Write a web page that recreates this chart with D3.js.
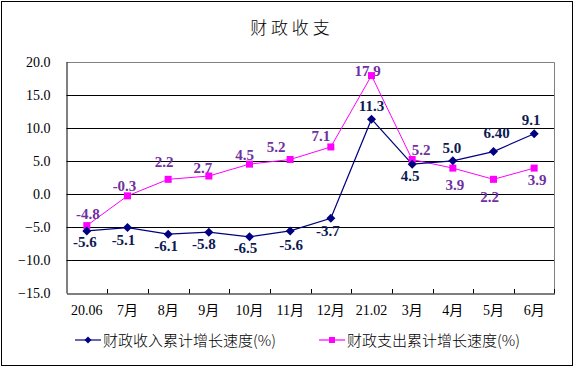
<!DOCTYPE html>
<html><head><meta charset="utf-8">
<script src="https://cdn.jsdelivr.net/npm/d3@7"></script>
<style>body{margin:0;background:#fff}svg{display:block}</style>
</head><body><svg id="c" width="574" height="367"></svg>
<script>
const categories = ["20.06","7月","8月","9月","10月","11月","12月","21.02","3月","4月","5月","6月"];
const revenue = [-5.6,-5.1,-6.1,-5.8,-6.5,-5.6,-3.7,11.3,4.5,5.0,6.40,9.1];
const revenueLabels = ["-5.6","-5.1","-6.1","-5.8","-6.5","-5.6","-3.7","11.3","4.5","5.0","6.40","9.1"];
const expenditure = [-4.8,-0.3,2.2,2.7,4.5,5.2,7.1,17.9,5.2,3.9,2.2,3.9];
const expenditureLabels = ["-4.8","-0.3","2.2","2.7","4.5","5.2","7.1","17.9","5.2","3.9","2.2","3.9"];
const yTicks = [-15,-10,-5,0,5,10,15,20];
const seriesNames = ["财政收入累计增长速度(%)","财政支出累计增长速度(%)"];
const titleText = "财 政 收 支";

// label placement offsets (dx, dy of baseline from point)
const revOffsets = [[-2,16],[-4,17],[-2,16.5],[-5,17],[-4,16.5],[1,19],[-3,17.5],[0,-8],[-2,17],[-1,-8],[3,-14],[-3,-9]];
const expOffsets = [[1,-7],[-3,-5],[-4,-12],[-6,-3],[-5,-4],[-14,-8],[-10,-6],[-4,0],[9,-4.5],[2,22],[-4,23],[3,17]];

const svg = d3.select("#c");
const W = 574, H = 367;
const L = 66.5, R = 554.5, T = 61.7, B = 293;

svg.append("rect").attr("x",1.5).attr("y",1.5).attr("width",W-3).attr("height",H-3)
  .attr("fill","#fff").attr("stroke","#000").attr("stroke-width",1);

svg.append("text").attr("x",290).attr("y",34).attr("text-anchor","middle")
  .attr("font-family","'Noto Sans CJK SC', sans-serif").attr("font-size",17).attr("font-weight",300)
  .attr("fill","#000").text(titleText);

const x = d3.scaleBand().domain(categories).range([L,R]).padding(0);
const y = d3.scaleLinear().domain([-15,20]).range([B,T]);
const cx = d => x(d) + x.bandwidth()/2;

// gridlines
svg.append("g").selectAll("line").data(yTicks.filter(v=>v>-15 && v<20)).join("line")
  .attr("x1",L).attr("x2",R).attr("y1",d=>Math.round(y(d))+0.5).attr("y2",d=>Math.round(y(d))+0.5)
  .attr("stroke","#000").attr("stroke-width",1);
// plot border top/right gray
svg.append("path").attr("d",`M${L},${Math.round(T)+0.5}H${R}V${B}`).attr("fill","none")
  .attr("stroke","#808080").attr("stroke-width",1);

// y axis
const yAxis = d3.axisLeft(y).tickValues(yTicks).tickFormat(d3.format(".1f")).tickSize(0).tickPadding(16);
const gy = svg.append("g").attr("transform",`translate(${L},0)`).call(yAxis);
gy.select(".domain").attr("stroke","#000");
gy.selectAll("text").attr("font-family","'Liberation Serif', serif").attr("font-size",14).attr("fill","#000");

// x axis
const xAxis = d3.axisBottom(x).tickSize(0).tickPadding(12);
const gx = svg.append("g").attr("transform",`translate(0,${Math.round(B)+0.5})`).call(xAxis);
gx.select(".domain").attr("stroke","#000");
gx.selectAll("text").attr("font-family","'Liberation Serif', 'Noto Sans CJK SC', serif").attr("font-size",14).attr("fill","#000");
// category boundary tick marks (inside, upward)
svg.append("g").selectAll("line").data(categories.slice(1)).join("line")
  .attr("x1",d=>Math.round(x(d))+0.5).attr("x2",d=>Math.round(x(d))+0.5)
  .attr("y1",Math.round(B)+0.5).attr("y2",Math.round(B)-4)
  .attr("stroke","#000");
svg.append("line").attr("x1",R).attr("x2",R).attr("y1",Math.round(B)+0.5).attr("y2",Math.round(B)-4).attr("stroke","#000");

const revColor = "#000080", expColor = "#ff00ff";
const line = d3.line().x((d,i)=>cx(categories[i])).y(d=>y(d));

svg.append("path").datum(expenditure).attr("d",line).attr("fill","none").attr("stroke",expColor).attr("stroke-width",1);
svg.append("path").datum(revenue).attr("d",line).attr("fill","none").attr("stroke",revColor).attr("stroke-width",1.2);

// labels
const labelFont = "'Liberation Serif', serif";
svg.append("g").selectAll("text").data(revenue).join("text")
  .attr("x",(d,i)=>cx(categories[i])+revOffsets[i][0])
  .attr("y",(d,i)=>y(d)+revOffsets[i][1])
  .attr("text-anchor","middle").attr("font-family",labelFont).attr("font-weight","bold").attr("font-size",15)
  .attr("fill","#0d1a52").text((d,i)=>revenueLabels[i]);
svg.append("g").selectAll("text").data(expenditure).join("text")
  .attr("x",(d,i)=>cx(categories[i])+expOffsets[i][0])
  .attr("y",(d,i)=>y(d)+expOffsets[i][1])
  .attr("text-anchor","middle").attr("font-family",labelFont).attr("font-weight","bold").attr("font-size",15)
  .attr("fill","#7030a0").text((d,i)=>expenditureLabels[i]);

// markers
const diamond = (px,py,s) => `M${px},${py-s}L${px+s},${py}L${px},${py+s}L${px-s},${py}Z`;
svg.append("g").selectAll("rect").data(expenditure).join("rect")
  .attr("x",(d,i)=>cx(categories[i])-3.5).attr("y",d=>y(d)-3.5).attr("width",7).attr("height",7)
  .attr("fill",expColor);
svg.append("g").selectAll("path").data(revenue).join("path")
  .attr("d",(d,i)=>diamond(cx(categories[i]),y(d),4.5)).attr("fill",revColor);

// legend
const lg = svg.append("g");
const legendItems = [{x:75, color:revColor, type:"d"},{x:319, color:expColor, type:"s"}];
legendItems.forEach((it,k)=>{
  const ly = 340;
  lg.append("line").attr("x1",it.x).attr("x2",it.x+26).attr("y1",ly).attr("y2",ly).attr("stroke",it.color).attr("stroke-width",1.2);
  if(it.type==="d") lg.append("path").attr("d",diamond(it.x+13,ly,3.5)).attr("fill",it.color);
  else lg.append("rect").attr("x",it.x+13-3).attr("y",ly-3).attr("width",6).attr("height",6).attr("fill",it.color);
  lg.append("text").attr("x",it.x+28).attr("y",ly+5.5).attr("font-family","'Noto Sans CJK SC', sans-serif")
    .attr("font-size",15).attr("font-weight",300).attr("fill","#000").text(seriesNames[k]);
});
</script></body></html>
